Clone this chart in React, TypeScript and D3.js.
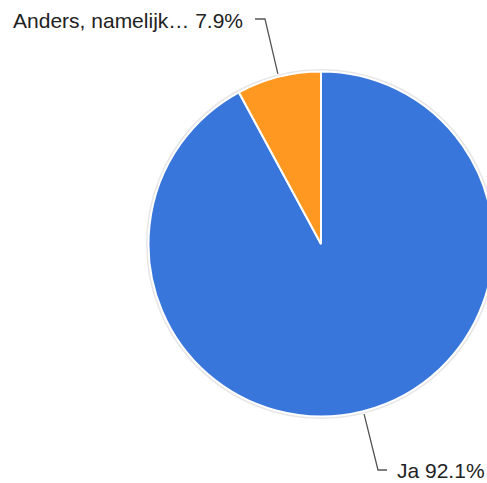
import * as d3 from "d3";

const labels = ["Ja", "Anders, namelijk…"];
const values = [92.1, 7.9];
const colors = ["#3876DB", "#FF9820"];

const W = 487;
const H = 483;
const cx = 321;
const cy = 244;
const R = 172.5;

export default function App() {
  const pie = d3
    .pie<number>()
    .sort(null)
    .startAngle(0)
    .endAngle(2 * Math.PI);
  const arcs = pie(values);
  const arc = d3.arc<d3.PieArcDatum<number>>().innerRadius(0).outerRadius(R);

  // label anchor positions (elbow point + text position) per slice
  const labelPos = [
    { ex: 378, ey: 470, hx: 387, tx: 397, ty: 478, anchor: "start" },
    { ex: 265, ey: 19, hx: 255, tx: 243, ty: 28, anchor: "end" },
  ];

  return (
    <svg
      width={W}
      height={H}
      style={{ position: "absolute", left: 0, top: 0, fontFamily: "'Liberation Sans', Arial, sans-serif" }}
    >
      <rect width={W} height={H} fill="#fff" />
      <circle cx={cx} cy={cy} r={R + 1} fill="none" stroke="#e6e6e6" strokeWidth={3} />
      <g transform={`translate(${cx},${cy})`}>
        {arcs.map((a, i) => (
          <path key={i} d={arc(a) || ""} fill={colors[i]} stroke="#fff" strokeWidth={2} />
        ))}
      </g>
      {arcs.map((a, i) => {
        const mid = (a.startAngle + a.endAngle) / 2;
        const r0 = R + 3;
        const sx = cx + r0 * Math.sin(mid);
        const sy = cy - r0 * Math.cos(mid);
        const p = labelPos[i];
        return (
          <g key={i}>
            <polyline
              points={`${sx},${sy} ${p.ex},${p.ey} ${p.hx},${p.ey}`}
              fill="none"
              stroke="#555"
              strokeWidth={1.3}
            />
            <text x={p.tx} y={p.ty} textAnchor={p.anchor} fontSize={21} fill="#222">
              {`${labels[i]} ${values[i].toFixed(1)}%`}
            </text>
          </g>
        );
      })}
    </svg>
  );
}
